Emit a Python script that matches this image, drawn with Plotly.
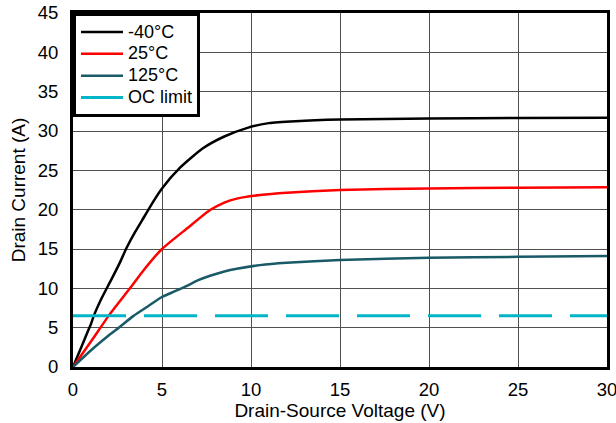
import plotly.graph_objects as go

# Drain-Source Voltage (V) vs Drain Current (A)
vds_m40 = [0, 0.5, 0.9, 1.0, 1.15, 1.6, 2.15, 2.64, 3.0, 3.5, 4.0, 4.5, 5.0, 6.0, 7.3, 8.5, 9.8, 11, 12.5, 15, 20, 25, 30]
id_m40 = [0, 2.7, 4.9, 5.4, 6.4, 8.7, 11.1, 13.3, 15.1, 17.2, 19.1, 21.0, 22.7, 25.3, 27.8, 29.3, 30.4, 31.0, 31.25, 31.45, 31.6, 31.65, 31.7]

vds_25 = [0, 1, 2, 3.2, 4, 5, 6.4, 7.7, 8.5, 9.2, 10.5, 12, 15, 20, 25, 30]
id_25 = [0, 3.2, 6.5, 10.0, 12.4, 15.0, 17.6, 19.95, 20.9, 21.4, 21.85, 22.15, 22.5, 22.7, 22.8, 22.85]

vds_125 = [0, 1, 2, 2.57, 3.4, 4.2, 5, 5.7, 6.4, 7.0, 7.7, 8.5, 9.2, 10.5, 12, 15, 20, 25, 30]
id_125 = [0, 2.1, 4.0, 5.0, 6.5, 7.7, 8.9, 9.6, 10.3, 11.0, 11.6, 12.15, 12.5, 12.95, 13.25, 13.6, 13.9, 14.0, 14.1]

vds_oc = [0, 30]
id_oc = [6.5, 6.5]

series_names = ["-40°C", "25°C", "125°C", "OC limit"]
x_ticks = [0, 5, 10, 15, 20, 25, 30]
y_ticks = [0, 5, 10, 15, 20, 25, 30, 35, 40, 45]

FONT = "Liberation Sans, Arial, sans-serif"


def lg(name):
    # larger visible text, compact legend row height
    return "<span style='font-size:18px'>" + name + "</span>"


fig = go.Figure()
fig.add_trace(go.Scatter(x=vds_m40, y=id_m40, mode="lines", name=lg(series_names[0]),
                         line=dict(color="#000000", width=2.5, shape="spline", smoothing=0.6)))
fig.add_trace(go.Scatter(x=vds_25, y=id_25, mode="lines", name=lg(series_names[1]),
                         line=dict(color="#ff0000", width=2.5, shape="spline", smoothing=0.6)))
fig.add_trace(go.Scatter(x=vds_125, y=id_125, mode="lines", name=lg(series_names[2]),
                         line=dict(color="#185a66", width=2.5, shape="spline", smoothing=0.6)))
fig.add_trace(go.Scatter(x=vds_oc, y=id_oc, mode="lines", name=lg(series_names[3]),
                         line=dict(color="#00b5c8", width=3, dash="53px,18px")))

fig.update_layout(
    width=616, height=423,
    margin=dict(l=73, r=9, t=13, b=56),
    paper_bgcolor="white", plot_bgcolor="white",
    font=dict(family=FONT, size=18, color="black"),
    showlegend=True,
    legend=dict(x=0, y=1, xanchor="left", yanchor="top",
                bgcolor="white", bordercolor="black", borderwidth=3,
                font=dict(family=FONT, size=14.5, color="black"),
                tracegroupgap=0, itemwidth=42),
)
fig.update_xaxes(range=[0, 30], tickvals=x_ticks, ticktext=[str(v) for v in x_ticks],
                 showgrid=True, gridcolor="#505050", gridwidth=1.3,
                 showline=True, linecolor="black", linewidth=3, mirror=True,
                 zeroline=False, ticks="", ticklabelstandoff=4, automargin=False,
                 ticklabeloverflow="allow",
                 tickfont=dict(family=FONT, size=18.5),
                 title=dict(text="Drain-Source Voltage (V)", font=dict(family=FONT, size=19), standoff=4))
fig.update_yaxes(range=[0, 45], tickvals=y_ticks, ticktext=[str(v) for v in y_ticks],
                 showgrid=True, gridcolor="#505050", gridwidth=1.3,
                 showline=True, linecolor="black", linewidth=3, mirror=True,
                 zeroline=False, ticks="", ticklabelstandoff=8, automargin=False,
                 ticklabeloverflow="allow",
                 tickfont=dict(family=FONT, size=18.5),
                 title=dict(text="Drain Current (A)", font=dict(family=FONT, size=19), standoff=8))

fig.write_html("out.html")
